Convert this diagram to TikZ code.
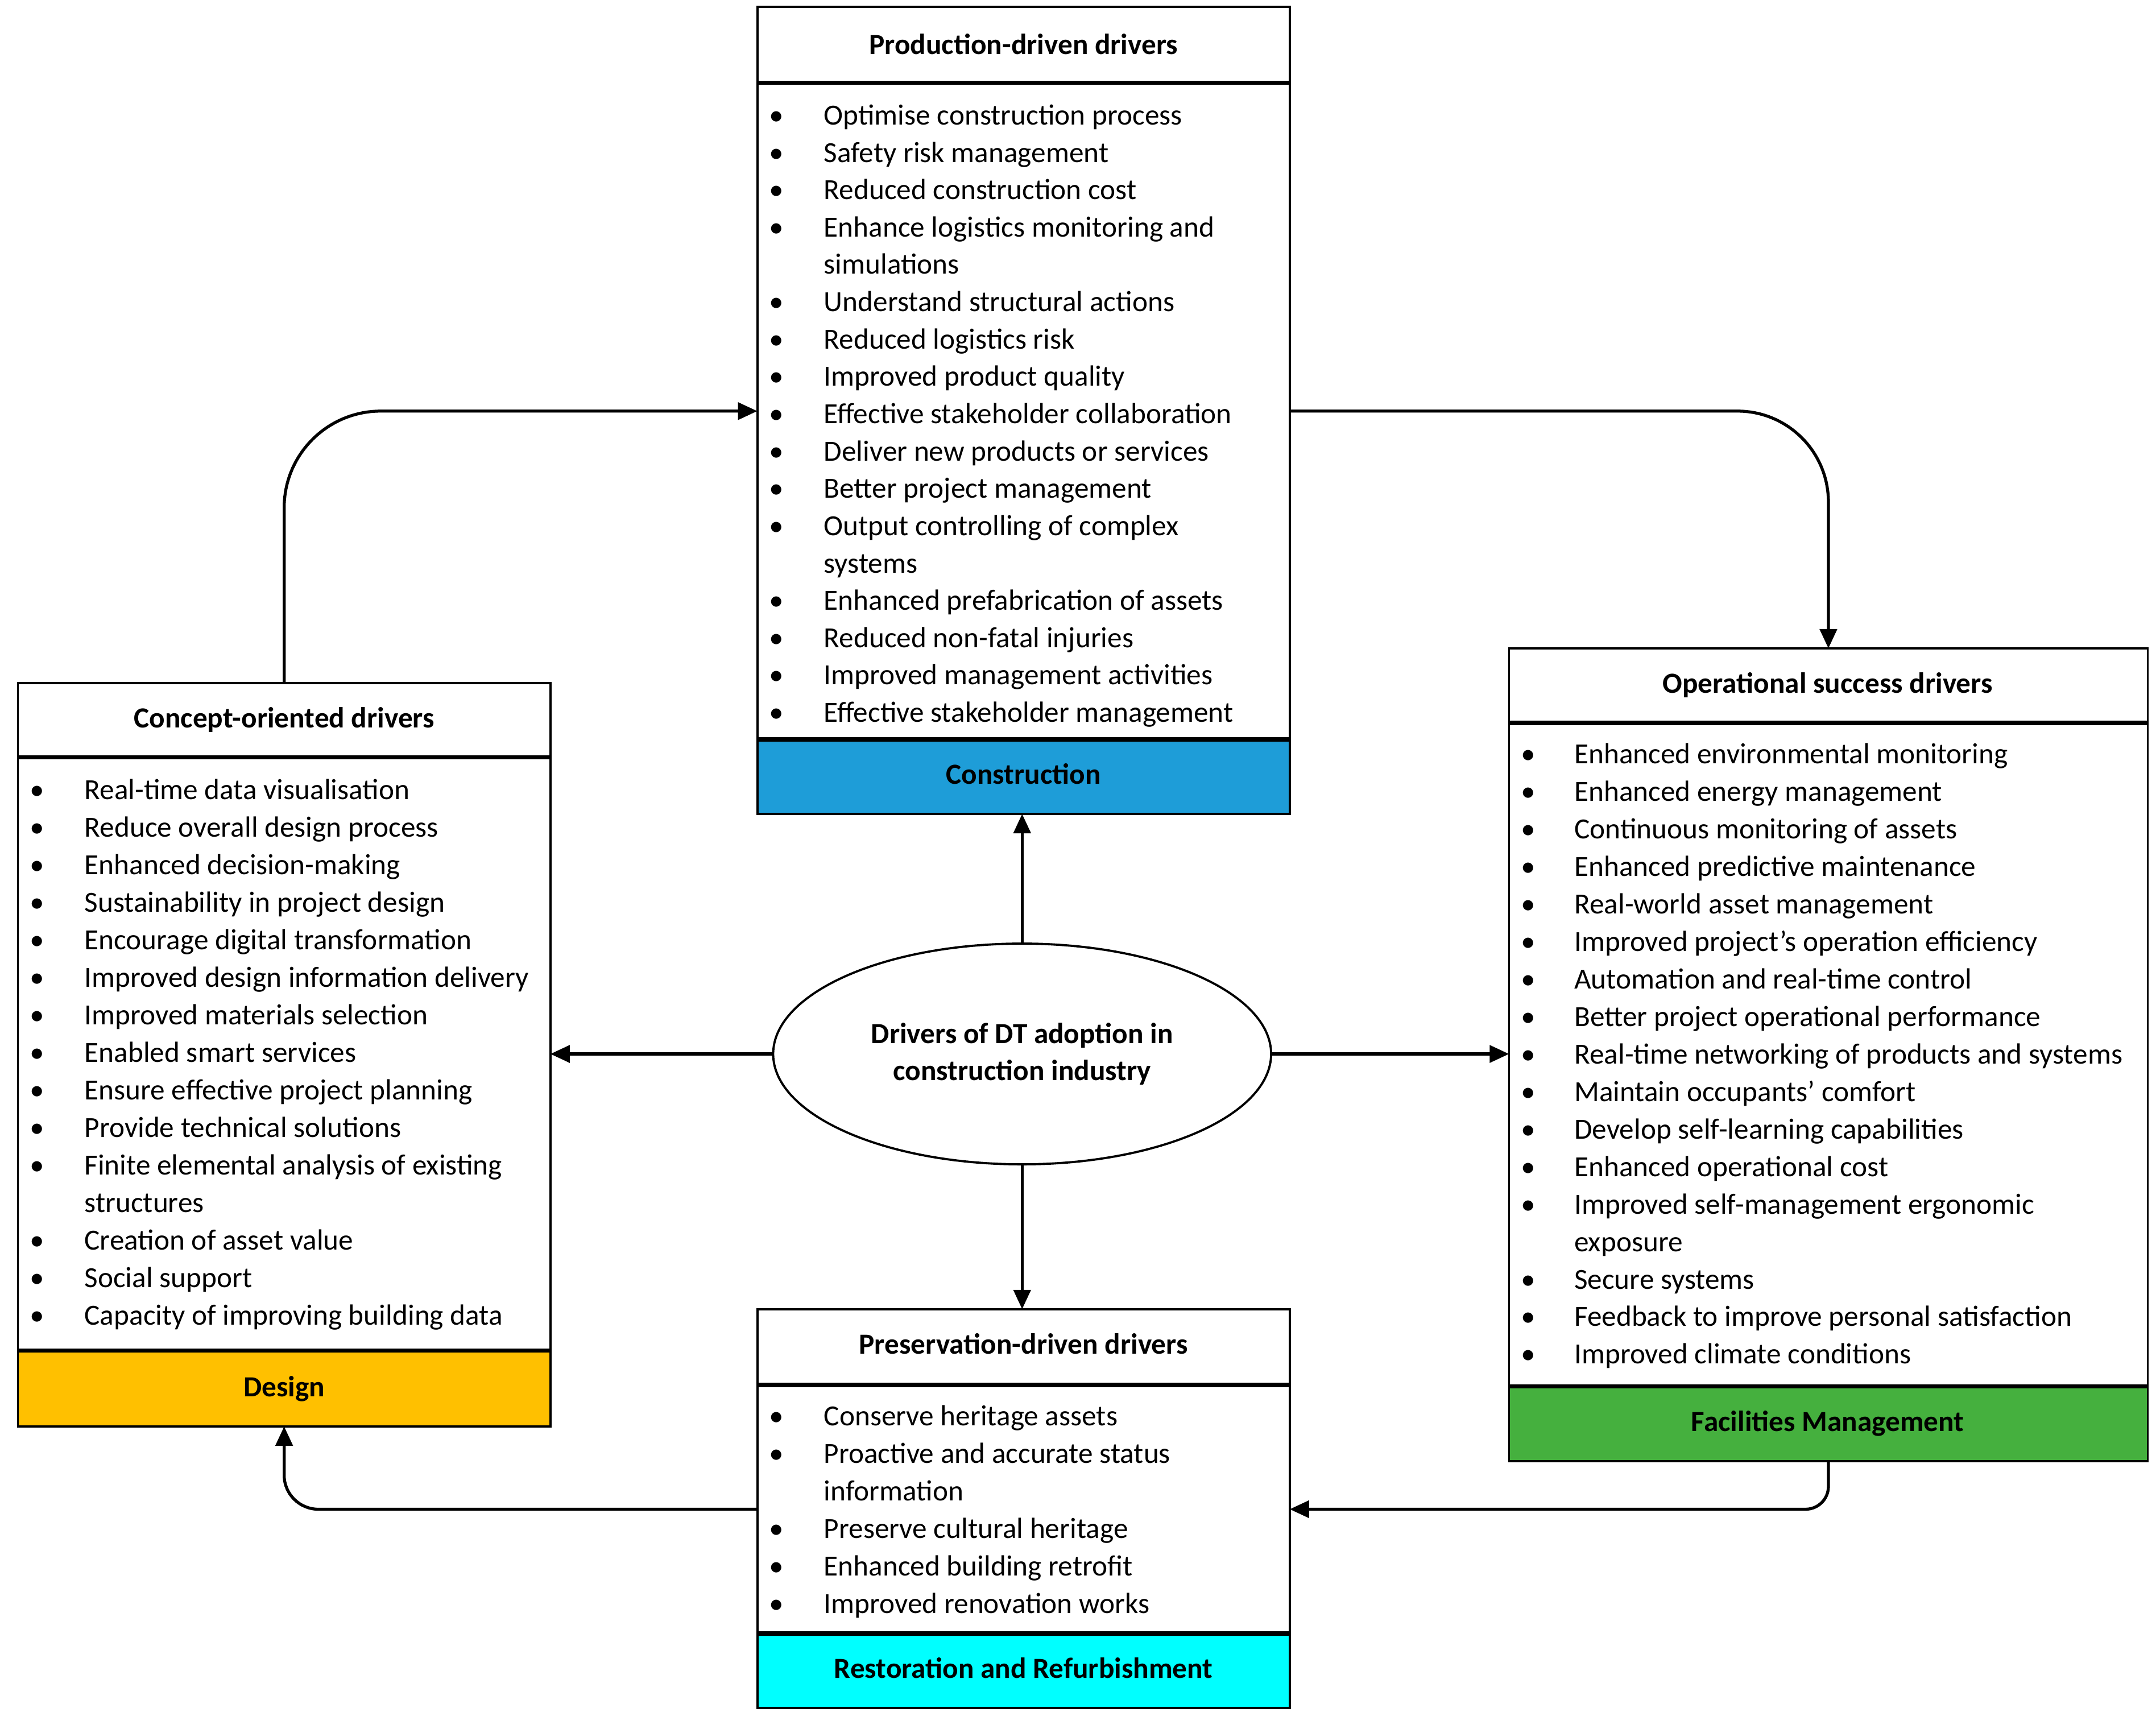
\documentclass[tikz,border=0pt]{standalone}
\usepackage{fontspec}
\setmainfont{Carlito}
\usetikzlibrary{shapes.geometric,arrows.meta}
\definecolor{cblue}{RGB}{30,157,216}
\definecolor{cgold}{RGB}{255,192,0}
\definecolor{cgreen}{RGB}{69,176,62}
\definecolor{ccyan}{RGB}{0,255,255}
\def\u{0.024255cm}
\newcommand{\drawlist}[6]{%
  \foreach \bflag/\btext [count=\i] in {#6} {
    \pgfmathsetmacro{\yy}{#4+3+(\i-1)*#5}
    \node[txt] (#1t\i) at (#3,\yy) {\btext};
    \ifnum\bflag=1 \node[bul] (#1b\i) at (#2,\yy) {\textbullet}; \fi
  }}
\begin{document}
\begin{tikzpicture}[x=0.024255cm,y=-0.024255cm,
  font=\fontsize{14.6}{18.7}\selectfont,
  part/.style={draw, line width=1.1pt, anchor=north west, inner sep=0pt, outer sep=0pt},
  sep/.style={line width=2.2pt},
  txt/.style={anchor=mid west, inner sep=0pt},
  bul/.style={anchor=mid, inner sep=0pt},
  ttl/.style={anchor=mid, inner sep=0pt, font=\fontsize{14.6}{18.7}\selectfont\bfseries},
  arr/.style={line width=1.5pt, -{Triangle[length=0.34cm,width=0.3cm]}}]
\useasboundingbox (0,0) rectangle (1563,1241);

% Production box
\node[part, minimum width=386*\u, minimum height=55*\u] (prodH) at (549,5) {};
\node[part, minimum width=386*\u, minimum height=476*\u] (prodB) at (549,60) {};
\node[part, fill=cblue, minimum width=386*\u, minimum height=54*\u] (prodF) at (549,536) {};
\draw[sep] (prodB.north west) -- (prodB.north east);
\draw[sep] (prodF.north west) -- (prodF.north east);
\node[ttl] (prodT) at (742,36) {Production-driven drivers};
\node[ttl] (prodL) at (742,565) {Construction};
\drawlist{p}{563}{597}{84}{27.06}{1/Optimise construction process, 1/Safety risk management, 1/Reduced construction cost, 1/Enhance logistics monitoring and, 0/simulations, 1/Understand structural actions, 1/Reduced logistics risk, 1/Improved product quality, 1/Effective stakeholder collaboration, 1/Deliver new products or services, 1/Better project management, 1/Output controlling of complex, 0/systems, 1/Enhanced prefabrication of assets, 1/Reduced non-fatal injuries, 1/Improved management activities, 1/Effective stakeholder management}

% Concept box
\node[part, minimum width=386*\u, minimum height=54*\u] (conH) at (13,495) {};
\node[part, minimum width=386*\u, minimum height=430*\u] (conB) at (13,549) {};
\node[part, fill=cgold, minimum width=386*\u, minimum height=55*\u] (conF) at (13,979) {};
\draw[sep] (conB.north west) -- (conB.north east);
\draw[sep] (conF.north west) -- (conF.north east);
\node[ttl] (conT) at (206,524) {Concept-oriented drivers};
\node[ttl] (conL) at (206,1009) {Design};
\drawlist{c}{27}{61}{573}{27.2}{1/Real-time data visualisation, 1/Reduce overall design process, 1/Enhanced decision-making, 1/Sustainability in project design, 1/Encourage digital transformation, 1/Improved design information delivery, 1/Improved materials selection, 1/Enabled smart services, 1/Ensure effective project planning, 1/Provide technical solutions, 1/Finite elemental analysis of existing, 0/structures, 1/Creation of asset value, 1/Social support, 1/Capacity of improving building data}

% Operational box
\node[part, minimum width=463*\u, minimum height=54*\u] (opH) at (1094,470) {};
\node[part, minimum width=463*\u, minimum height=481*\u] (opB) at (1094,524) {};
\node[part, fill=cgreen, minimum width=463*\u, minimum height=54*\u] (opF) at (1094,1005) {};
\draw[sep] (opB.north west) -- (opB.north east);
\draw[sep] (opF.north west) -- (opF.north east);
\node[ttl] (opT) at (1325,499) {Operational success drivers};
\node[ttl] (opL) at (1325,1034) {Facilities Management};
\drawlist{o}{1108}{1141}{547}{27.2}{1/Enhanced environmental monitoring, 1/Enhanced energy management, 1/Continuous monitoring of assets, 1/Enhanced predictive maintenance, 1/Real-world asset management, 1/Improved project’s operation efficiency, 1/Automation and real-time control, 1/Better project operational performance, 1/Real-time networking of products and systems, 1/Maintain occupants’ comfort, 1/Develop self-learning capabilities, 1/Enhanced operational cost, 1/Improved self-management ergonomic, 0/exposure, 1/Secure systems, 1/Feedback to improve personal satisfaction, 1/Improved climate conditions}

% Preservation box
\node[part, minimum width=386*\u, minimum height=55*\u] (presH) at (549,949) {};
\node[part, minimum width=386*\u, minimum height=180*\u] (presB) at (549,1004) {};
\node[part, fill=ccyan, minimum width=386*\u, minimum height=54*\u] (presF) at (549,1184) {};
\draw[sep] (presB.north west) -- (presB.north east);
\draw[sep] (presF.north west) -- (presF.north east);
\node[ttl] (presT) at (742,978) {Preservation-driven drivers};
\node[ttl] (presL) at (742,1213) {Restoration and Refurbishment};
\drawlist{r}{563}{597}{1027}{27.2}{1/Conserve heritage assets, 1/Proactive and accurate status, 0/information, 1/Preserve cultural heritage, 1/Enhanced building retrofit, 1/Improved renovation works}

% Centre ellipse
\node[draw, ellipse, line width=1.1pt, minimum width=361*\u, minimum height=160*\u, inner sep=0pt, align=center, font=\fontsize{14.6}{18.7}\selectfont\bfseries] (ell) at (741,764) {Drivers of DT adoption in\\construction industry};

% Connectors
\draw[arr] (ell.north) -- (ell.north |- prodF.south);
\draw[arr] (ell.south) -- (ell.south |- presH.north);
\draw[arr] (ell.west) -- (ell.west -| conB.east);
\draw[arr] (ell.east) -- (ell.east -| opB.west);
\draw[arr, rounded corners=1.7cm] (conH.north) |- (prodB.west);
\draw[arr, rounded corners=1.6cm] (prodB.east) -| (opH.north);
\draw[arr, rounded corners=0.4cm] (opF.south) |- (presB.east);
\draw[arr, rounded corners=0.6cm] (presB.west) -| (conF.south);
\end{tikzpicture}
\end{document}
